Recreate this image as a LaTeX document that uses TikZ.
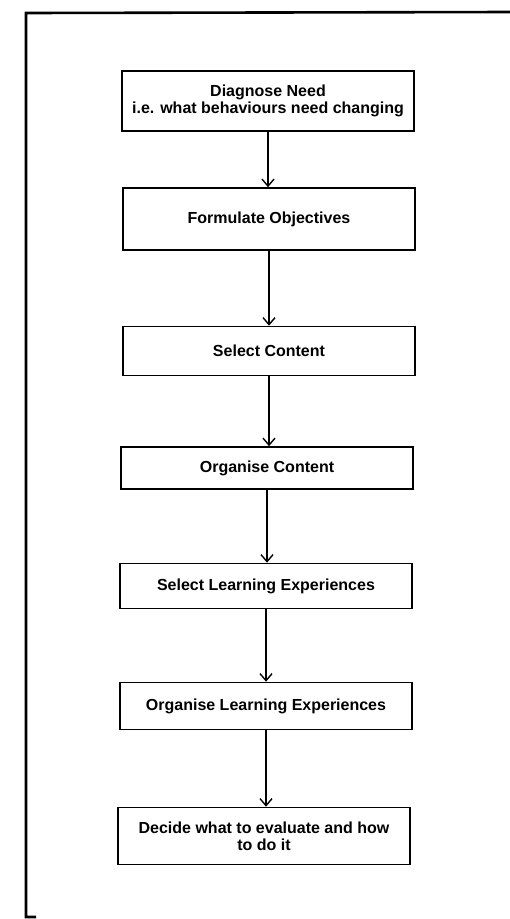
\documentclass[tikz,border=0pt]{standalone}
\usepackage{fontspec}
\setmainfont{Liberation Sans}
\usetikzlibrary{arrows.meta}
\begin{document}
\begin{tikzpicture}[x=1pt,y=-1pt,
  stepbox/.style={draw, line width=1.6pt, minimum width=292pt, inner sep=2pt, align=center, font=\bfseries\fontsize{16}{17}\selectfont},
  conn/.style={line width=1.4pt, -{Straight Barb[length=7pt,width=12pt,line width=1.4pt]}},
  frame/.style={line width=2.6pt}]
\useasboundingbox (0,0) rectangle (510,919);
\node[stepbox, minimum height=60pt] (b1) at (268,101) {Diagnose Need\\i.e. what behaviours need changing};
\node[stepbox, minimum height=62pt] (b2) at (269,219) {Formulate Objectives};
\node[stepbox, minimum height=49pt] (b3) at (269,351) {Select Content};
\node[stepbox, minimum height=42pt] (b4) at (267,468) {Organise Content};
\node[stepbox, minimum height=45pt] (b5) at (266,586) {Select Learning Experiences};
\node[stepbox, minimum height=47pt] (b6) at (266,706) {Organise Learning Experiences};
\node[stepbox, minimum height=57pt] (b7) at (264,836) {Decide what to evaluate and how\\to do it};
\foreach \a/\b in {b1/b2,b2/b3,b3/b4,b4/b5,b5/b6,b6/b7}
  \draw[conn] (\a.south) -- (\a.south |- \b.north);
\coordinate (tl) at (26,13);
\coordinate (tr) at (510,12);
\coordinate (bl) at (26,917);
\coordinate (be) at (36,917);
\draw[frame] (tr) -- (tl) -- (bl) -- (be);
\end{tikzpicture}
\end{document}
